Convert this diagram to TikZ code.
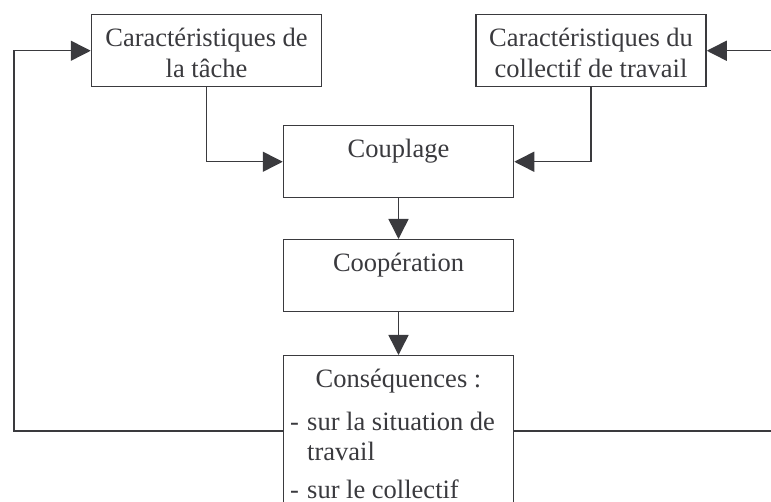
\documentclass[tikz,border=0pt]{standalone}
\usepackage{fontspec}
\setmainfont{Liberation Serif}
\usepackage{tikz}
\usetikzlibrary{arrows.meta}
\definecolor{figdark}{RGB}{58,58,62}
\tikzstyle{box} = [draw=figdark, line width=1.5pt, text=figdark, minimum width=230pt, inner xsep=0pt, inner ysep=0pt, text height=32pt, text depth=40pt, align=center]
\tikzstyle{twoline} = [text height=63pt, text depth=9pt]
\tikzstyle{item} = [text=figdark, inner sep=0pt, anchor=base west]
\tikzstyle{arrow} = [-{Triangle[length=20pt, width=20pt]}, line width=1.5pt, draw=figdark]
\tikzstyle{line} = [line width=1.5pt, draw=figdark]

\begin{document}
\begin{tikzpicture}[x=1pt, y=-1pt, font=\fontsize{26.5}{31}\selectfont]
    \useasboundingbox (0,0) rectangle (771,502);

    % inputs
    \node[box, twoline, anchor=north] (tache) at (206.5,14) {Caractéristiques de\\la tâche};
    \node[box, twoline, anchor=north] (collectif) at (591,14) {Caractéristiques du\\collectif de travail};

    % main chain
    \node[box, anchor=north] (couplage) at (398.5,125) {Couplage};
    \node[box, anchor=north] (cooperation) at (398.5,239) {Coopération};
    \node[box, anchor=north, text depth=200pt] (consequences) at (398.5,355) {Conséquences :};
    \node[item] (dashA) at (290,431) {-};
    \node[item] (itemA) at (307,431) {sur la situation de};
    \node[item] (itemAb) at (307,460) {travail};
    \node[item] (dashB) at (290,498) {-};
    \node[item] (itemB) at (307,498) {sur le collectif};

    \draw[arrow] (tache.south) |- (couplage.west);
    \draw[arrow] (collectif.south) |- (couplage.east);
    \draw[arrow] (couplage.south) -- (cooperation.north);
    \draw[arrow] (cooperation.south) -- (consequences.north);

    % feedback
    \coordinate (loopL) at ([yshift=-76pt]consequences.north west);
    \coordinate (loopR) at ([yshift=-76pt]consequences.north east);
    \coordinate (cornerL) at (14,0);
    \coordinate (edgeR) at (780,0);
    \draw[arrow] (loopL) -| (cornerL |- tache.west) -- (tache.west);
    \draw[line] (loopR) -- (loopR -| edgeR);
    \draw[arrow] (collectif.east -| edgeR) -- (collectif.east);
\end{tikzpicture}
\end{document}
